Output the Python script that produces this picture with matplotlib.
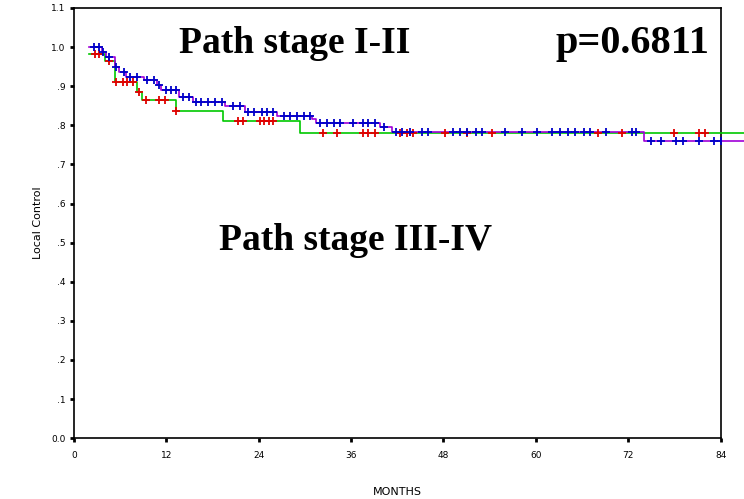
import numpy as np
import matplotlib.pyplot as plt

# Stage I-II: tiempos de evento / supervivencia y censuras
t_12 = [2.0, 3.6, 4.2, 5.3, 5.9, 6.8, 9.1, 10.8, 11.3, 13.7, 15.4, 19.6, 22.2, 26.4, 30.9, 31.5, 39.8, 41.3, 74.0]
s_12 = [1.0, 0.987, 0.974, 0.949, 0.936, 0.923, 0.915, 0.903, 0.89, 0.872, 0.86, 0.849, 0.834, 0.823, 0.816, 0.806, 0.795, 0.783, 0.76]
c_12 = [2.6, 3.3, 3.8, 4.5, 5.5, 6.5, 7.3, 8.2, 9.5, 10.4, 11.1, 11.9, 12.6, 13.3, 14.1, 15.0,
        15.9, 16.5, 17.4, 18.3, 19.2, 20.6, 21.5, 22.6, 23.4, 24.4, 25.1, 25.8, 27.3, 28.1, 29.0,
        29.9, 30.6, 32.0, 32.9, 33.8, 34.5, 36.3, 37.5, 38.2, 39.1, 40.3, 41.8, 42.6, 43.7, 45.2,
        46.0, 49.3, 50.2, 51.1, 52.2, 53.0, 56.0, 58.2, 60.2, 62.1, 63.2, 64.2, 65.1, 66.2, 67.1,
        69.1, 72.5, 73.0, 74.9, 76.2, 78.2, 79.1, 81.2, 83.1, 84.0]

# Stage III-IV
t_34 = [1.9, 4.0, 5.3, 8.2, 8.8, 13.2, 19.4, 29.3]
s_34 = [0.982, 0.964, 0.91, 0.885, 0.864, 0.836, 0.81, 0.78]
c_34 = [2.7, 3.3, 4.5, 5.5, 6.3, 6.9, 7.6, 8.5, 9.3, 11.1, 11.8, 13.3, 21.3, 21.9, 24.1, 24.7,
        25.3, 25.9, 32.4, 34.2, 37.5, 38.2, 39.1, 42.4, 43.3, 44.1, 48.2, 51.1, 54.3, 68.1,
        71.2, 77.9, 81.2, 82.0]

t_fin = 87.2

yticks = [0.0, 0.1, 0.2, 0.3, 0.4, 0.5, 0.6, 0.7, 0.8, 0.9, 1.0, 1.1]
ylabels = ['0.0', '.1', '.2', '.3', '.4', '.5', '.6', '.7', '.8', '.9', '1.0', '1.1']
xticks = [0, 12, 24, 36, 48, 60, 72, 84]


def curva(ax, t, s, c, col_linea, col_marca):
    tt = list(t) + [t_fin]
    ss = list(s) + [s[-1]]
    ax.step(tt, ss, where='post', color=col_linea, lw=1.2, clip_on=False, zorder=3)
    idx = np.searchsorted(t, c, side='right') - 1
    yc = np.array(s)[idx]
    ax.plot(c, yc, '+', color=col_marca, ms=6, mew=1.3, zorder=4)


fig = plt.figure(figsize=(7.44, 4.99), dpi=100)
ax = fig.add_axes([0.0995, 0.122, 0.869, 0.862])

curva(ax, t_34, s_34, c_34, '#00c800', '#e00000')
curva(ax, t_12, s_12, c_12, '#a000d8', '#0000c8')

ax.set_xlim(0, 84)
ax.set_ylim(0, 1.1)
ax.set_xticks(xticks)
ax.set_xticklabels([str(x) for x in xticks])
ax.set_yticks(yticks)
ax.set_yticklabels(ylabels)
ax.tick_params(direction='out', length=3, width=2, labelsize=6.5, pad=3)
ax.tick_params(axis='x', pad=6)
for sp in ax.spines.values():
    sp.set_linewidth(1.2)

ax.set_xlabel('MONTHS', fontsize=8, labelpad=20)
ax.set_ylabel('Local Control', fontsize=8, labelpad=6)

fuente = {'family': 'Liberation Serif', 'weight': 'bold'}
ax.text(0.162, 0.895, 'Path stage I-II', transform=ax.transAxes, ha='left', va='baseline', size=27, **fuente)
ax.text(0.745, 0.895, 'p=0.6811', transform=ax.transAxes, ha='left', va='baseline', size=29, **fuente)
ax.text(0.224, 0.437, 'Path stage III-IV', transform=ax.transAxes, ha='left', va='baseline', size=27, **fuente)

fig.savefig('out.png', dpi=100)
